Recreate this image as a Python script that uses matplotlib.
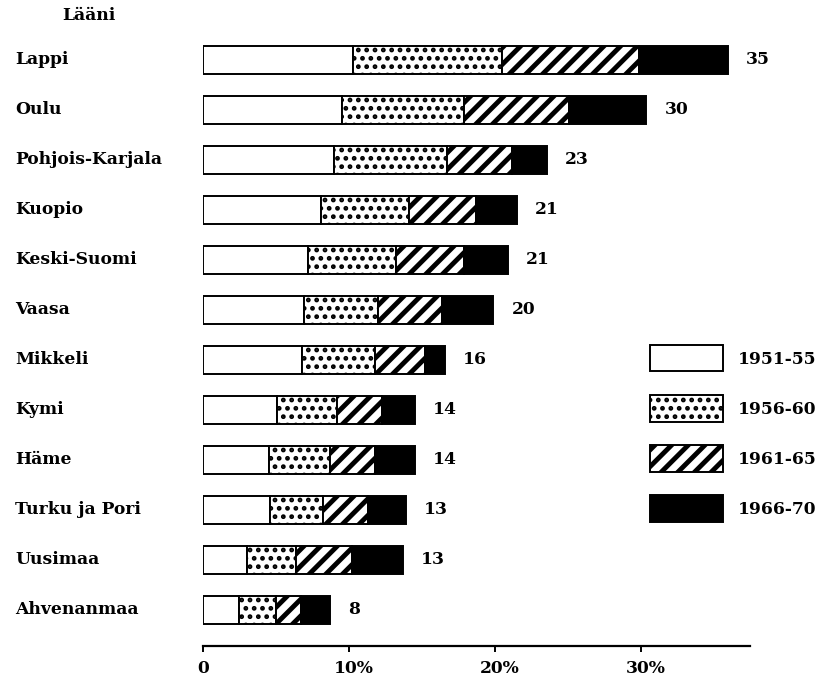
import matplotlib
matplotlib.use("Agg")
import matplotlib.pyplot as plt
import matplotlib.transforms as mtrans
from matplotlib.patches import Patch
import numpy as np

# share of each period, %
regions = ["Lappi", "Oulu", "Pohjois-Karjala", "Kuopio", "Keski-Suomi", "Vaasa",
           "Mikkeli", "Kymi", "Häme", "Turku ja Pori", "Uusimaa", "Ahvenanmaa"]
p1951 = [10.3, 9.5, 9.0, 8.1, 7.2, 6.9, 6.8, 5.1, 4.5, 4.6, 3.0, 2.5]
p1956 = [10.2, 8.4, 7.7, 6.0, 6.0, 5.1, 5.0, 4.1, 4.2, 3.6, 3.4, 2.5]
p1961 = [9.4, 7.2, 4.5, 4.6, 4.7, 4.4, 3.4, 3.1, 3.1, 3.1, 3.8, 1.7]
p1966 = [6.1, 5.3, 2.4, 2.8, 3.0, 3.5, 1.4, 2.2, 2.7, 2.6, 3.5, 2.0]
totals = [35, 30, 23, 21, 21, 20, 16, 14, 14, 13, 13, 8]
periods = ["1951-55", "1956-60", "1961-65", "1966-70"]
ticks = [0, 10, 20, 30]
tick_labels = ["0", "10%", "20%", "30%"]

plt.rcParams["font.family"] = ["DejaVu Serif"]
plt.rcParams["font.weight"] = "bold"
FS = 12.3

fig = plt.figure(figsize=(8.29, 6.81), dpi=100)
ax = fig.add_axes([203 / 829, 1 - 646 / 681, 547 / 829, (646 - 25) / 681])

y = np.arange(len(regions))
series = [p1951, p1956, p1961, p1966]
styles = [dict(color="white", hatch=None, hlw=1.0),
          dict(color="white", hatch="..", hlw=2.2),
          dict(color="white", hatch="//", hlw=3.5),
          dict(color="black", hatch=None, hlw=1.0)]
left = np.zeros(len(regions))
handles = []
for vals, st, lab in zip(series, styles, periods):
    with plt.rc_context({"hatch.linewidth": st["hlw"], "hatch.color": "black"}):
        ax.barh(y, vals, left=left, height=0.56, color=st["color"],
                edgecolor="black", linewidth=1.4, hatch=st["hatch"])
        handles.append(Patch(facecolor=st["color"], edgecolor="black",
                             linewidth=1.4, hatch=st["hatch"], label=lab))
    left = left + np.array(vals)

for yi, end, tot in zip(y, left, totals):
    ax.annotate(str(tot), (end, yi), xytext=(13, 0), textcoords="offset points",
                va="center", ha="left", fontsize=FS)

ax.set_xlim(0, 37.5)
ax.set_ylim(11.72, -0.7)
ax.set_yticks([])
ax.set_xticks(ticks)
ax.set_xticklabels(tick_labels, fontsize=FS)
ax.tick_params(axis="x", direction="out", length=4, width=1.4, pad=6)
shift = mtrans.ScaledTranslation(5 / 100, 0, fig.dpi_scale_trans)
for lbl in ax.get_xticklabels()[1:]:
    lbl.set_transform(lbl.get_transform() + shift)
for s in ["top", "right", "left"]:
    ax.spines[s].set_visible(False)
ax.spines["bottom"].set_linewidth(1.6)

tr = ax.get_yaxis_transform()
for yi, name in zip(y, regions):
    ax.text(-188 / 547, yi, name, transform=tr, ha="left", va="center",
            fontsize=FS, clip_on=False)
ax.text(-114 / 547, -0.9, "Lääni", transform=tr, ha="center", va="center",
        fontsize=FS, clip_on=False)

leg = fig.legend(handles=handles, loc="upper left",
                 bbox_to_anchor=(650 / 829, 1 - 345 / 681), bbox_transform=fig.transFigure,
                 frameon=False, fontsize=FS, handlelength=4.3, handleheight=2.0,
                 labelspacing=1.39, handletextpad=0.85, borderpad=0, borderaxespad=0)
for p, st in zip(leg.get_patches(), styles):
    if hasattr(p, "set_hatch_linewidth"):
        p.set_hatch_linewidth(st["hlw"])
    else:
        p._hatch_linewidth = st["hlw"]

fig.savefig("out.png", dpi=100, facecolor="white")
